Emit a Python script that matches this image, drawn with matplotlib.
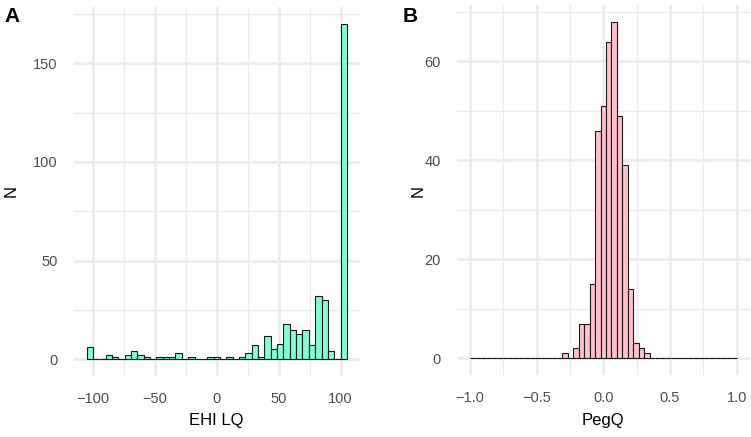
import numpy as np
import matplotlib
matplotlib.use('Agg')
import matplotlib.pyplot as plt
from matplotlib.ticker import FixedLocator

plt.rcParams['font.family'] = ['Liberation Sans', 'DejaVu Sans']

# Panel A: EHI LQ, 40 bins over -100..100 (ggplot style, bins centred on multiples of width)
ehi_range = (-100, 100)
ehi_bins = 40
ehi_counts = [6, 0, 0, 2, 1, 0, 2, 4, 2, 1, 0, 1, 1, 1, 3, 0, 1, 0, 0, 1,
              1,
              0, 1, 0, 1, 3, 7, 1, 12, 5, 8, 18, 15, 13, 15, 7, 32, 30, 4, 0, 170]
ehi_xticks = [-100, -50, 0, 50, 100]
ehi_xminor = [-75, -25, 25, 75]
ehi_yticks = [0, 50, 100, 150]
ehi_yminor = [25, 75, 125, 175]

# Panel B: PegQ, 50 bins over -1..1
pegq_range = (-1, 1)
pegq_bins = 50
pegq_counts = [0] * 17 + [1, 0, 2, 7, 7, 15, 46,
                          51,
                          64, 68, 49, 39, 14, 3, 2, 1] + [0] * 16
pegq_xticks = [-1.0, -0.5, 0.0, 0.5, 1.0]
pegq_xminor = [-0.75, -0.25, 0.25, 0.75]
pegq_yticks = [0, 20, 40, 60]
pegq_yminor = [10, 30, 50, 70]


def fmt(v, digits=0):
    s = f'{v:.{digits}f}'
    return s.replace('-', '\u2212')


def draw_hist(ax, rng, nbins, counts, color, xticks, xminor, yticks, yminor, digits):
    width = (rng[1] - rng[0]) / (nbins - 1)
    half = (len(counts) - 1) // 2
    centers = np.arange(-half, half + 1) * width

    ax.bar(centers, counts, width=width, color=color, edgecolor='#1a1a1a',
           linewidth=0.8, zorder=3)

    # ggplot default expansion: 5% on each side
    lo, hi = centers[0] - width / 2, centers[-1] + width / 2
    pad = 0.05 * (hi - lo)
    ax.set_xlim(lo - pad, hi + pad)
    top = max(counts)
    ax.set_ylim(-0.05 * top, top * 1.05)

    ax.xaxis.set_major_locator(FixedLocator(xticks))
    ax.xaxis.set_minor_locator(FixedLocator(xminor))
    ax.yaxis.set_major_locator(FixedLocator(yticks))
    ax.yaxis.set_minor_locator(FixedLocator(yminor))
    ax.set_xticklabels([fmt(v, digits) for v in xticks])
    ax.set_yticklabels([fmt(v) for v in yticks])

    ax.grid(which='major', color='#EBEBEB', linewidth=1.9)
    ax.grid(which='minor', color='#EBEBEB', linewidth=0.95)
    ax.set_axisbelow(True)
    ax.tick_params(which='both', length=0, labelsize=10.5, labelcolor='#4D4D4D', pad=11.5)
    for spine in ax.spines.values():
        spine.set_visible(False)


fig = plt.figure(figsize=(7.51, 4.37), dpi=100)
ax_a = fig.add_axes([0.0979, 0.1394, 0.3814, 0.8444])
ax_b = fig.add_axes([0.6080, 0.1416, 0.3907, 0.8471])

draw_hist(ax_a, ehi_range, ehi_bins, ehi_counts, '#7FFFD4',
          ehi_xticks, ehi_xminor, ehi_yticks, ehi_yminor, 0)
draw_hist(ax_b, pegq_range, pegq_bins, pegq_counts, '#FFC0CB',
          pegq_xticks, pegq_xminor, pegq_yticks, pegq_yminor, 1)

# axis titles and panel tags (pixel positions converted to figure fraction)
W, H = 751, 437
fig.text(216 / W, 1 - 420 / H, 'EHI LQ', ha='center', va='center', fontsize=12)
fig.text(603 / W, 1 - 420 / H, 'PegQ', ha='center', va='center', fontsize=12)
fig.text(11 / W, 1 - 191 / H, 'N', ha='center', va='center', rotation=90, fontsize=12)
fig.text(418 / W, 1 - 191 / H, 'N', ha='center', va='center', rotation=90, fontsize=12)
fig.text(12 / W, 1 - 16 / H, 'A', ha='center', va='center', fontsize=15, fontweight='bold')
fig.text(410 / W, 1 - 16 / H, 'B', ha='center', va='center', fontsize=15, fontweight='bold')

fig.savefig('out.png', dpi=100)
